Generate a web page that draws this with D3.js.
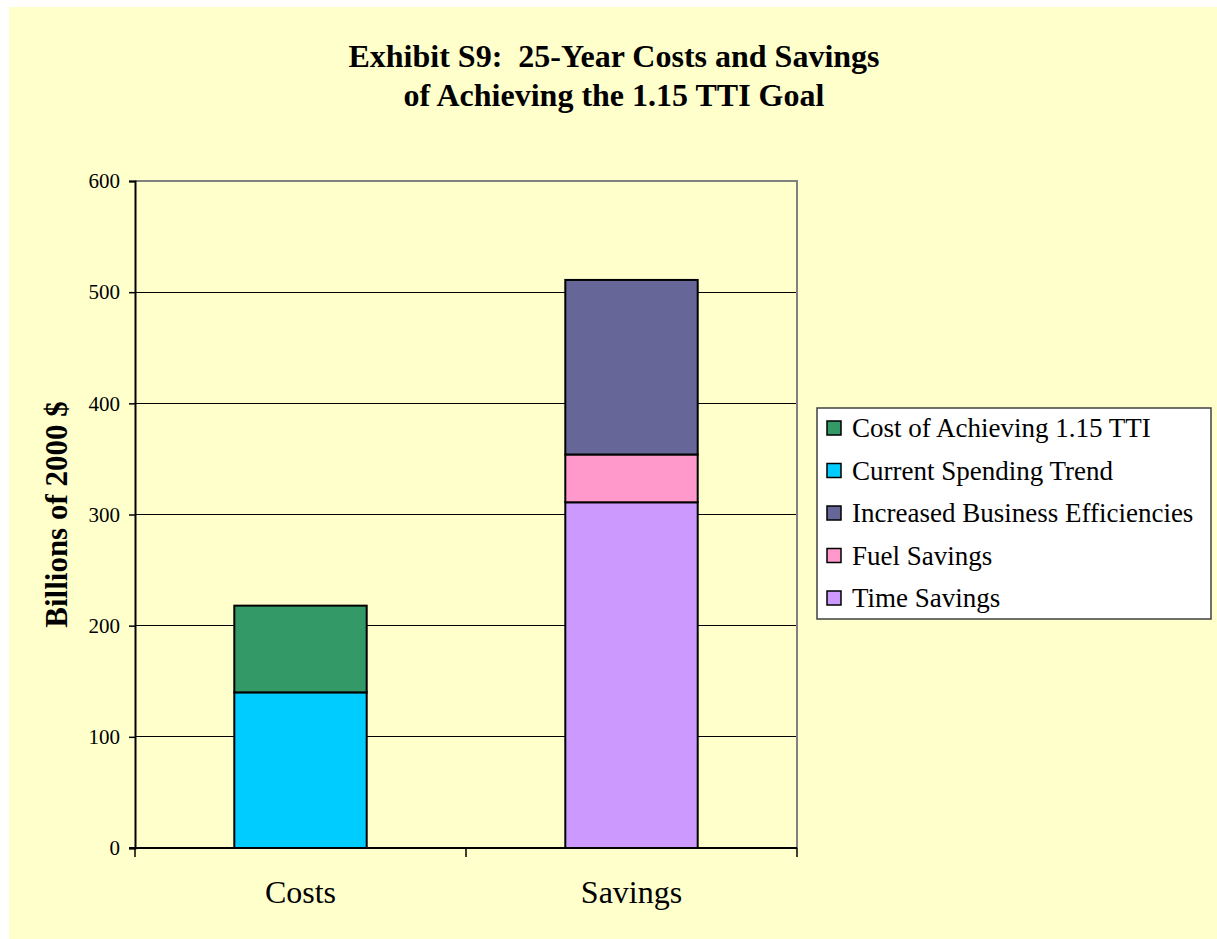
<!DOCTYPE html>
<html>
<head>
<meta charset="utf-8">
<script src="https://cdn.jsdelivr.net/npm/d3@7"></script>
<style>
  body { margin: 0; background: #ffffff; }
  svg text { font-family: "Liberation Serif", "Times New Roman", serif; fill: #000; white-space: pre; }
</style>
</head>
<body>
<svg id="chart" width="1217" height="939"></svg>
<script>
// Chart content
const titleLines = ["Exhibit S9:  25-Year Costs and Savings", "of Achieving the 1.15 TTI Goal"];
const yAxisLabel = "Billions of 2000 $";
const categories = ["Costs", "Savings"];
const yTicks = [0, 100, 200, 300, 400, 500, 600];

// Series values per category (billions of 2000 $)
const currentSpendingTrend = [140, 0];
const costOfAchieving = [78, 0];
const timeSavings = [0, 311];
const fuelSavings = [0, 43];
const businessEfficiencies = [0, 157];

const seriesNames = {
  current: "Current Spending Trend",
  cost: "Cost of Achieving 1.15 TTI",
  time: "Time Savings",
  fuel: "Fuel Savings",
  business: "Increased Business Efficiencies"
};
const seriesColors = {
  current: "#00CCFF",
  cost: "#339966",
  time: "#CC99FF",
  fuel: "#FF99CC",
  business: "#666699"
};
// Bottom-to-top stacking order
const stackKeys = ["current", "cost", "time", "fuel", "business"];
// Legend order (top to bottom)
const legendKeys = ["cost", "current", "business", "fuel", "time"];

const rows = categories.map((c, i) => ({
  category: c,
  current: currentSpendingTrend[i],
  cost: costOfAchieving[i],
  time: timeSavings[i],
  fuel: fuelSavings[i],
  business: businessEfficiencies[i]
}));

const svg = d3.select("#chart");

// Background panel
svg.append("rect").attr("x", 9).attr("y", 7).attr("width", 1217 - 9).attr("height", 939 - 7)
  .attr("fill", "#FFFFCC");

const plot = { left: 135, right: 797, top: 181, bottom: 848 };

const y = d3.scaleLinear().domain([0, 600]).range([plot.bottom, plot.top]);
const x = d3.scaleBand().domain(categories).range([plot.left, plot.right])
  .paddingInner(0.6).paddingOuter(0.3);

// Gridlines
svg.append("g").selectAll("line").data(yTicks.filter(t => t > 0 && t < 600)).join("line")
  .attr("x1", plot.left).attr("x2", plot.right)
  .attr("y1", d => y(d)).attr("y2", d => y(d))
  .attr("stroke", "#000").attr("stroke-width", 1).attr("shape-rendering", "crispEdges");

// Plot frame (top and right edges)
svg.append("path")
  .attr("d", `M${plot.left},${y(600)}H${plot.right}V${plot.bottom}`)
  .attr("fill", "none").attr("stroke", "#808080").attr("stroke-width", 2)
  .attr("shape-rendering", "crispEdges");

// Stacked bars
const stacked = d3.stack().keys(stackKeys)(rows);
svg.append("g").selectAll("g").data(stacked).join("g")
  .attr("fill", d => seriesColors[d.key])
  .selectAll("rect").data(d => d.filter(s => s[1] - s[0] > 0)).join("rect")
  .attr("x", d => x(d.data.category))
  .attr("width", x.bandwidth())
  .attr("y", d => y(d[1]))
  .attr("height", d => y(d[0]) - y(d[1]))
  .attr("stroke", "#000").attr("stroke-width", 2);

// Y axis
const yAxis = svg.append("g").attr("transform", `translate(${plot.left},0)`)
  .call(d3.axisLeft(y).tickValues(yTicks).tickSize(6).tickPadding(9).tickFormat(d3.format("d")));
yAxis.attr("font-family", null).attr("font-size", null);
yAxis.select(".domain").attr("stroke", "#000").attr("stroke-width", 2);
yAxis.selectAll(".tick line").attr("stroke", "#000").attr("stroke-width", 1.5);
yAxis.selectAll(".tick text").style("font-size", "21px");

// X axis: ticks sit on category boundaries
const xAxisG = svg.append("g").attr("transform", `translate(0,${plot.bottom})`);
xAxisG.append("line").attr("x1", plot.left - 6).attr("x2", plot.right)
  .attr("stroke", "#000").attr("stroke-width", 2);
const bounds = [plot.left, (x(categories[0]) + x.bandwidth() + x(categories[1])) / 2, plot.right];
xAxisG.selectAll(".xtick").data(bounds).join("line").attr("class", "xtick")
  .attr("x1", d => d).attr("x2", d => d).attr("y1", 0).attr("y2", 9)
  .attr("stroke", "#000").attr("stroke-width", 1.5);
xAxisG.selectAll(".xlabel").data(categories).join("text").attr("class", "xlabel")
  .attr("x", d => x(d) + x.bandwidth() / 2).attr("y", 55)
  .attr("text-anchor", "middle").style("font-size", "32px")
  .text(d => d);

// Y axis title
svg.append("text")
  .attr("transform", `translate(67,${(plot.top + plot.bottom) / 2}) rotate(-90)`)
  .attr("text-anchor", "middle").style("font-size", "31px").attr("font-weight", "bold")
  .text(yAxisLabel);

// Chart title
svg.append("g").selectAll("text").data(titleLines).join("text")
  .attr("x", 614).attr("y", (d, i) => 67 + i * 39)
  .attr("text-anchor", "middle").style("font-size", "32px").attr("font-weight", "bold")
  .text(d => d);

// Legend
const legend = svg.append("g").attr("transform", "translate(817,408)");
legend.append("rect").attr("width", 394).attr("height", 211)
  .attr("fill", "#FFFFFF").attr("stroke", "#404040").attr("stroke-width", 1.5);
const items = legend.selectAll(".item").data(legendKeys).join("g").attr("class", "item")
  .attr("transform", (d, i) => `translate(0,${20 + i * 42.5})`);
items.append("rect").attr("x", 10).attr("y", -7).attr("width", 14).attr("height", 14)
  .attr("fill", d => seriesColors[d]).attr("stroke", "#000").attr("stroke-width", 1.5);
items.append("text").attr("x", 35).attr("y", 9).style("font-size", "27px")
  .text(d => seriesNames[d]);
</script>
</body>
</html>
